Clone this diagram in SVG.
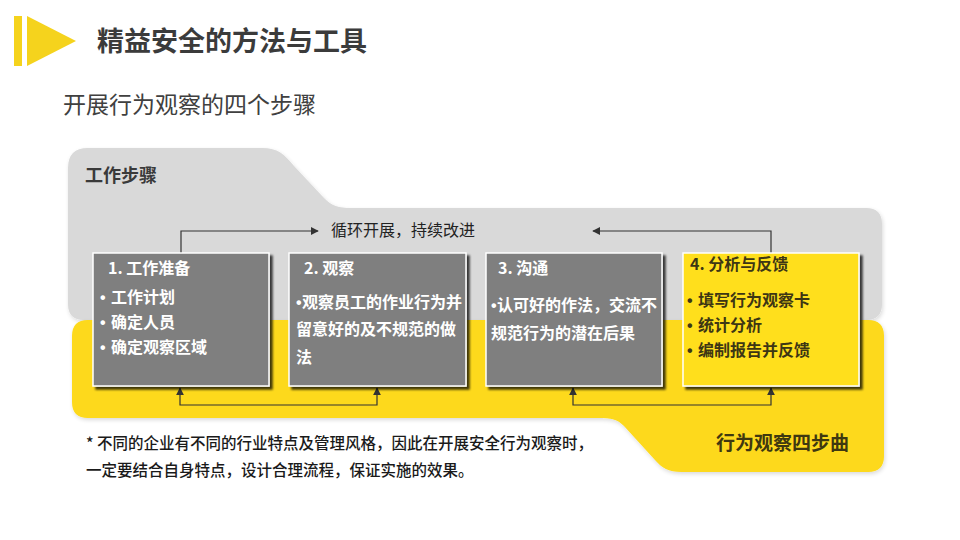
<svg xmlns="http://www.w3.org/2000/svg" width="960" height="540" viewBox="0 0 960 540">
  <defs>
    <style>
      text { font-family: "Noto Sans CJK SC", "Noto Sans", sans-serif; }
      .title { font-size: 27px; font-weight: bold; fill: #3b3b3b; }
      .sub { font-size: 23px; fill: #404040; }
      .sec { font-size: 18px; font-weight: bold; fill: #3a3a3a; }
      .lbl { font-size: 16px; fill: #222222; }
      .bw { font-size: 16px; font-weight: bold; fill: #ffffff; }
      .bd { font-size: 16px; font-weight: bold; fill: #3d3614; }
      .dot { font-family: "Liberation Sans", sans-serif; }
      .note { font-size: 15.5px; font-weight: 500; fill: #1a1a1a; }
      .step { font-size: 19px; font-weight: bold; fill: #3f3810; }
      .box { stroke: #ffffff; stroke-width: 1.5; filter: url(#sh); }
      .grey { fill: #7f7f7f; }
      .yel { fill: #ffdf1b; }
      .conn { fill: none; stroke: #333333; stroke-width: 1.2; }
    </style>
    <filter id="sh" x="-10%" y="-10%" width="125%" height="125%">
      <feGaussianBlur in="SourceAlpha" stdDeviation="1"/>
      <feOffset dx="3" dy="3" result="o"/>
      <feComponentTransfer><feFuncA type="linear" slope="0.75"/></feComponentTransfer>
      <feMerge><feMergeNode/><feMergeNode in="SourceGraphic"/></feMerge>
    </filter>
    <filter id="soft" x="-5%" y="-10%" width="110%" height="125%">
      <feGaussianBlur in="SourceAlpha" stdDeviation="2"/>
      <feOffset dx="1" dy="2"/>
      <feComponentTransfer><feFuncA type="linear" slope="0.15"/></feComponentTransfer>
      <feMerge><feMergeNode/><feMergeNode in="SourceGraphic"/></feMerge>
    </filter>
    <marker id="arr" viewBox="0 0 10 10" refX="9" refY="5" markerWidth="8" markerHeight="8" markerUnits="userSpaceOnUse" orient="auto-start-reverse">
      <path d="M0,0 L10,5 L0,10 Z" fill="#333333"/>
    </marker>
  </defs>

  <rect width="960" height="540" fill="#ffffff"/>

  <g id="header">
    <rect x="14" y="16" width="8" height="50" fill="#f5d31d"/>
    <polygon points="27,16 76,41 27,66" fill="#f5d31d"/>
    <text class="title" x="97" y="51">精益安全的方法与工具</text>
    <text class="sub" x="63" y="113">开展行为观察的四个步骤</text>
  </g>

  <g id="bg-steps">
    <path d="M68,168 Q68,148 88,148 L262,148 C278,148 284,154 294,166 L324,198 C332,206 338,208 352,208 L866,208 Q882,208 882,224 L882,304 Q882,320 866,320 L84,320 Q68,320 68,304 Z" fill="#d9d9d9" filter="url(#soft)"/>
    <text class="sec" x="85" y="182">工作步骤</text>
  </g>

  <g id="bg-four">
    <path d="M72,336 Q72,320 88,320 L868,320 Q884,320 884,336 L884,456 Q884,472 868,472 L682,472 C668,472 662,468 655,460 L624,426 C617,419 612,418 598,418 L88,418 Q72,418 72,402 Z" fill="#fdd91a" filter="url(#soft)"/>
    <text class="step" x="716" y="450">行为观察四步曲</text>
  </g>

  <g id="connectors">
    <path class="conn" d="M181,253 L181,231 L318,231" marker-end="url(#arr)"/>
    <text class="lbl" x="331" y="236">循环开展，持续改进</text>
    <path class="conn" d="M771,253 L771,231 L593,231" marker-end="url(#arr)"/>
    <path class="conn" d="M180,388 L180,405 L377,405 L377,388" marker-start="url(#arr)" marker-end="url(#arr)"/>
    <path class="conn" d="M573,388 L573,405 L771,405 L771,388" marker-start="url(#arr)" marker-end="url(#arr)"/>
  </g>

  <g id="step1">
    <rect class="box grey" x="93" y="253" width="176" height="133"/>
    <text class="bw" x="108" y="274">1. 工作准备</text>
    <text class="bw"><tspan class="dot" x="100" y="303">•</tspan><tspan x="111" y="303">工作计划</tspan></text>
    <text class="bw"><tspan class="dot" x="100" y="328">•</tspan><tspan x="111" y="328">确定人员</tspan></text>
    <text class="bw"><tspan class="dot" x="100" y="353">•</tspan><tspan x="111" y="353">确定观察区域</tspan></text>
  </g>

  <g id="step2">
    <rect class="box grey" x="289" y="253" width="177" height="133"/>
    <text class="bw" x="304" y="274">2. 观察</text>
    <text class="bw"><tspan class="dot" x="296" y="308">•</tspan><tspan x="302" y="308">观察员工的作业行为并</tspan></text>
    <text class="bw" x="296" y="335">留意好的及不规范的做</text>
    <text class="bw" x="296" y="363">法</text>
  </g>

  <g id="step3">
    <rect class="box grey" x="486" y="253" width="176" height="133"/>
    <text class="bw" x="498" y="274">3. 沟通</text>
    <text class="bw"><tspan class="dot" x="491" y="311">•</tspan><tspan x="497" y="311">认可好的作法，交流不</tspan></text>
    <text class="bw" x="491" y="339">规范行为的潜在后果</text>
  </g>

  <g id="step4">
    <rect class="box yel" x="683" y="253" width="176" height="133"/>
    <text class="bd" x="690" y="270">4. 分析与反馈</text>
    <text class="bd"><tspan class="dot" x="687" y="306">•</tspan><tspan x="698" y="306">填写行为观察卡</tspan></text>
    <text class="bd"><tspan class="dot" x="687" y="331">•</tspan><tspan x="698" y="331">统计分析</tspan></text>
    <text class="bd"><tspan class="dot" x="687" y="356">•</tspan><tspan x="698" y="356">编制报告并反馈</tspan></text>
  </g>

  <g id="footnote">
    <text class="note" x="86" y="449">* 不同的企业有不同的行业特点及管理风格，因此在开展安全行为观察时，</text>
    <text class="note" x="86" y="476">一定要结合自身特点，设计合理流程，保证实施的效果。</text>
  </g>
</svg>
